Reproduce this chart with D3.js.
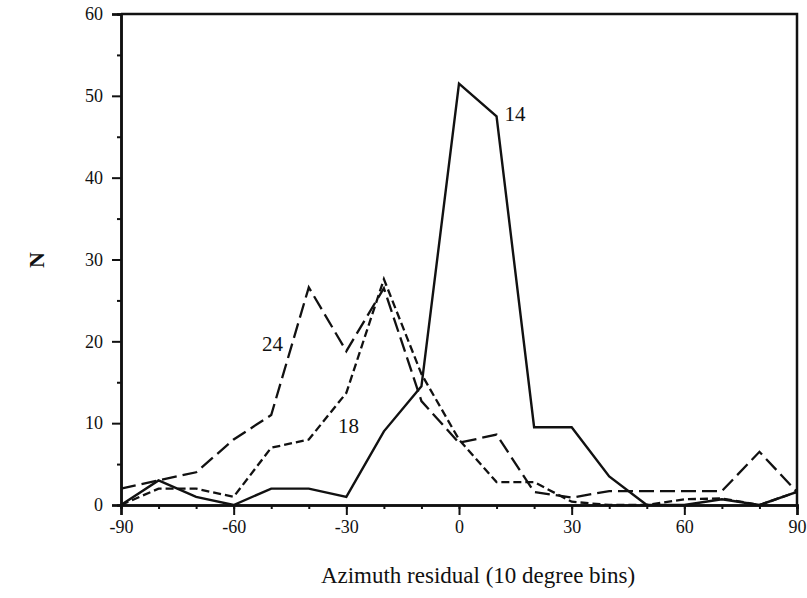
<!DOCTYPE html>
<html>
<head>
<meta charset="utf-8">
<script src="https://cdn.jsdelivr.net/npm/d3@7"></script>
<style>
  body { margin: 0; background: #fff; }
  text { font-family: "Liberation Serif", "Times New Roman", serif; fill: #111; }
</style>
</head>
<body>
<div id="app"></div>
<script>
// azimuth bins (degrees)
const bins = [-90, -80, -70, -60, -50, -40, -30, -20, -10, 0, 10, 20, 30, 40, 50, 60, 70, 80, 90]
// counts per bin for each series
const series14 = [0, 3, 1, 0, 2, 2, 1, 9, 14.5, 51.5, 47.5, 9.5, 9.5, 3.5, 0, 0, 0.7, 0, 1.6]
const series18 = [0, 2, 2, 1, 7, 8, 13.7, 27.6, 16, 8, 2.8, 2.8, 0.4, 0, 0, 0.7, 0.8, 0, 1.6]
const series24 = [2, 3, 4, 8, 11, 26.6, 18.8, 26.5, 12.7, 7.6, 8.6, 1.6, 0.9, 1.7, 1.7, 1.7, 1.7, 6.5, 1.6]
const xTicks = [-90, -60, -30, 0, 30, 60, 90]
const yTicks = [0, 10, 20, 30, 40, 50, 60]

const dimensions = {
  width: 807,
  height: 598,
  margin: { top: 14, right: 10, bottom: 93, left: 121 },
}
dimensions.boundedWidth = dimensions.width - dimensions.margin.left - dimensions.margin.right
dimensions.boundedHeight = dimensions.height - dimensions.margin.top - dimensions.margin.bottom

const wrapper = d3.select('#app')
  .append('svg')
    .attr('width', dimensions.width)
    .attr('height', dimensions.height)

const bounds = wrapper.append('g')
    .attr('transform', `translate(${dimensions.margin.left},${dimensions.margin.top})`)

const xScale = d3.scaleLinear()
  .domain([-90, 90])
  .range([0, dimensions.boundedWidth])

const yScale = d3.scaleLinear()
  .domain([0, 60])
  .range([dimensions.boundedHeight, 0])

// series lines
const lineGen = (vals) => d3.line()
  .x((d, i) => xScale(bins[i]))
  .y(d => yScale(d))(vals)

const lines = [
  { vals: series24, dash: '15 6', width: 2.3 },
  { vals: series18, dash: '8 4', width: 2.3 },
  { vals: series14, dash: null, width: 2.4 },
]
lines.forEach(l => {
  bounds.append('path')
    .attr('d', lineGen(l.vals))
    .attr('fill', 'none')
    .attr('stroke', '#111')
    .attr('stroke-width', l.width)
    .attr('stroke-linejoin', 'miter')
    .attr('stroke-dasharray', l.dash)
})

// frame: top and right
bounds.append('path')
  .attr('d', `M0,0H${dimensions.boundedWidth}V${dimensions.boundedHeight}`)
  .attr('fill', 'none')
  .attr('stroke', '#111')
  .attr('stroke-width', 2.5)

// x axis: minor ticks every 10, major every 30
const xAxis = bounds.append('g')
  .attr('transform', `translate(0,${dimensions.boundedHeight})`)
xAxis.append('g')
  .call(d3.axisBottom(xScale).tickValues(bins).tickSize(4).tickFormat(''))
const xMajor = xAxis.append('g')
  .call(d3.axisBottom(xScale).tickValues(xTicks).tickSize(10).tickPadding(4).tickFormat(d3.format('d')))
xAxis.selectAll('.domain').attr('stroke-width', 2.5).attr('stroke', '#111')
xAxis.selectAll('.tick line').attr('stroke-width', 2).attr('stroke', '#111')
xMajor.selectAll('text').style('font-size', '18px').attr('dy', '0.8em')
  .text(d => d < 0 ? '-' + Math.abs(d) : d)

// y axis: minor ticks every 5, major every 10
const yAxis = bounds.append('g')
yAxis.append('g')
  .call(d3.axisLeft(yScale).tickValues(d3.range(5, 60, 10)).tickSize(4).tickFormat(''))
const yMajor = yAxis.append('g')
  .call(d3.axisLeft(yScale).tickValues(yTicks).tickSize(9).tickPadding(9))
yAxis.selectAll('.domain').attr('stroke-width', 2.5).attr('stroke', '#111')
yAxis.selectAll('.tick line').attr('stroke-width', 2).attr('stroke', '#111')
yMajor.selectAll('text').style('font-size', '18px')

// series labels
const labels = [
  { text: '14', x: 10, y: 47.5, dx: 8, dy: 5 },
  { text: '24', x: -53, y: 19.5, dx: 2, dy: 6 },
  { text: '18', x: -33, y: 9.5, dx: 3, dy: 6 },
]
bounds.selectAll('.series-label')
  .data(labels)
  .join('text')
    .attr('class', 'series-label')
    .attr('x', d => xScale(d.x) + d.dx)
    .attr('y', d => yScale(d.y) + d.dy)
    .style('font-size', '21px')
    .text(d => d.text)

// axis titles
wrapper.append('text')
  .attr('x', 478)
  .attr('y', 583)
  .attr('text-anchor', 'middle')
  .style('font-size', '23px')
  .text('Azimuth residual (10 degree bins)')

wrapper.append('text')
  .attr('transform', 'translate(44,260) rotate(-90)')
  .attr('text-anchor', 'middle')
  .style('font-size', '22px')
  .style('font-weight', 'bold')
  .text('N')
</script>
</body>
</html>
